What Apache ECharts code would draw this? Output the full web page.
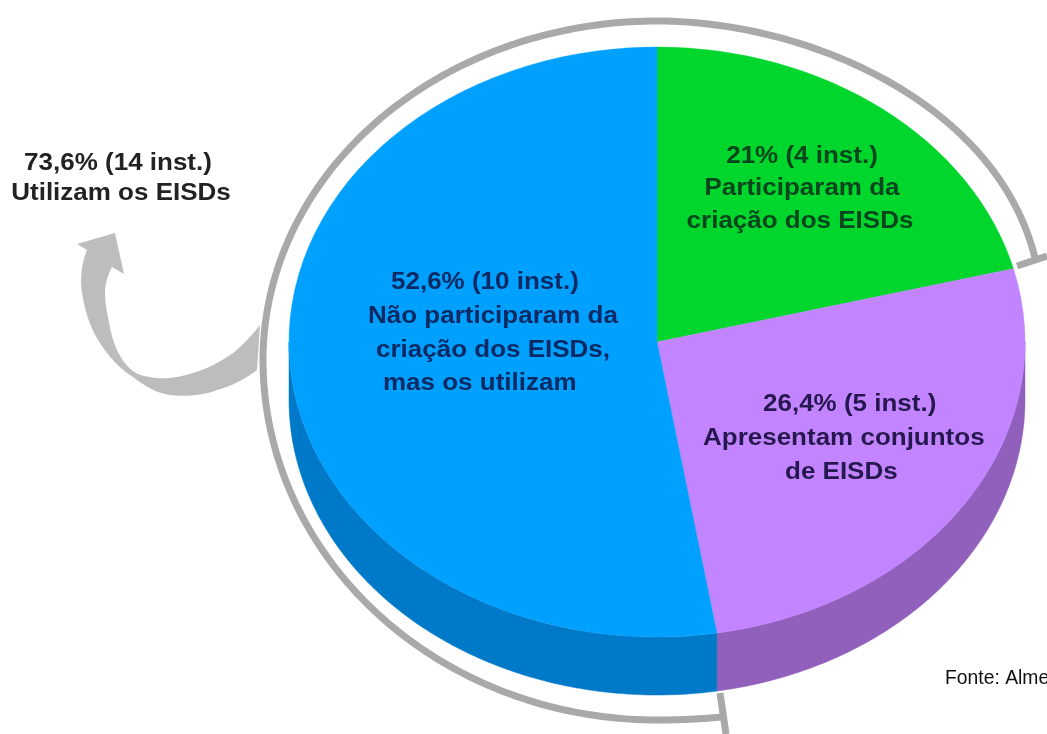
<!DOCTYPE html>
<html>
<head>
<meta charset="utf-8">
<style>html,body{margin:0;padding:0;background:#fff}#c{width:1047px;height:734px}</style>
<script src="https://cdn.jsdelivr.net/npm/echarts@6/dist/echarts.min.js"></script>
</head>
<body>
<div id="c"></div>
<script>
var categories = ['Participaram da criação dos EISDs', 'Apresentam conjuntos de EISDs', 'Não participaram da criação dos EISDs, mas os utilizam'];
var shares = [21, 26.4, 52.6];
var institutions = [4, 5, 10];
var topColors = ['#00d62c', '#c285ff', '#00a0ff'];
var sideColors = ['#00a020', '#9060bc', '#0079c8'];

var greenLines = ['21% (4 inst.)', 'Participaram da', 'criação dos EISDs'];
var purpleLines = ['26,4% (5 inst.)', 'Apresentam conjuntos', 'de EISDs'];
var blueLines = ['52,6% (10 inst.)', 'Não participaram da', 'criação dos EISDs,', 'mas os utilizam'];
var totalLines = ['73,6% (14 inst.)', 'Utilizam os EISDs'];
var sourceText = 'Fonte: Alme';

var CX = 657, CY = 342, RX = 368, RY = 295, DEPTH = 58;
var TOTAL = shares.reduce(function (a, b) { return a + b; }, 0);

function renderSlice(params, api) {
  var i = params.dataIndex, before = 0;
  for (var k = 0; k < i; k++) before += shares[k];
  var v = api.value(1);
  var a0 = before / TOTAL * 2 * Math.PI - Math.PI / 2;
  var a1 = (before + v) / TOTAL * 2 * Math.PI - Math.PI / 2;
  var children = [];
  var s0 = Math.max(a0, 0), s1 = Math.min(a1, Math.PI);
  if (s1 > s0) {
    var pts = [], n = 120, j, t;
    for (j = 0; j <= n; j++) {
      t = s0 + (s1 - s0) * j / n;
      pts.push([CX + RX * Math.cos(t), CY + RY * Math.sin(t)]);
    }
    for (j = n; j >= 0; j--) {
      t = s0 + (s1 - s0) * j / n;
      pts.push([CX + RX * Math.cos(t), CY + DEPTH + RY * Math.sin(t)]);
    }
    children.push({
      type: 'polygon', shape: { points: pts },
      style: { fill: sideColors[i], stroke: sideColors[i], lineWidth: 0.5 }
    });
  }
  children.push({
    type: 'group', x: CX, y: CY, scaleY: RY / RX,
    children: [{
      type: 'sector',
      shape: { cx: 0, cy: 0, r0: 0, r: RX, startAngle: a0, endAngle: a1, clockwise: true },
      style: { fill: topColors[i], stroke: topColors[i], lineWidth: 0.5 }
    }]
  });
  return { type: 'group', children: children };
}

function textLine(str, x, y, color, align) {
  return {
    type: 'text', x: x, y: y, z: 10, scaleX: 1.13,
    style: {
      text: str, fill: color, align: align || 'left', verticalAlign: 'middle',
      font: 'bold 23px "Liberation Sans", Arial, sans-serif'
    }
  };
}

// sample a chain of cubic beziers: [x0,y0, c1x,c1y,c2x,c2y,x,y, ...]
function sampleCurve(p) {
  var out = [[p[0], p[1]]];
  for (var k = 2; k + 5 < p.length; k += 6) {
    var x0 = p[k - 2], y0 = p[k - 1];
    for (var s = 1; s <= 60; s++) {
      var t = s / 60, u = 1 - t;
      out.push([
        u * u * u * x0 + 3 * u * u * t * p[k] + 3 * u * t * t * p[k + 2] + t * t * t * p[k + 4],
        u * u * u * y0 + 3 * u * u * t * p[k + 1] + 3 * u * t * t * p[k + 3] + t * t * t * p[k + 5]
      ]);
    }
  }
  return out;
}
function sampleEllipse(cx, cy, rx, ry, d0, d1) {
  var out = [];
  for (var d = d0; d <= d1; d += 1) {
    var r = d * Math.PI / 180;
    out.push([cx + rx * Math.cos(r), cy + ry * Math.sin(r)]);
  }
  return out;
}

var greenY = [157, 189, 222], purpleY = [405, 439, 473], blueY = [283, 317, 351, 384], totalY = [164, 194];
var blueX = [391, 368, 376, 383], purpleX = [763, 703, 785], greenX = [802, 802, 800], totalX = [118, 121];

var graphics = [];
var GREY = { fill: 'none', stroke: '#a9a9a9', lineWidth: 7, lineJoin: 'round' };
var arcRight = sampleCurve([1036, 262, 1000, 105, 810, 21, 657, 21]);
var arcTopLeft = sampleEllipse(657, 360, 394, 339, 180, 270).reverse();
var arcBottomLeft = sampleEllipse(657, 360, 394, 360, 90, 180).reverse();
var arcEnd = sampleCurve([657, 720, 680, 720, 700, 719, 722, 717]);
graphics.push({
  type: 'polyline', z: 1,
  shape: { points: arcRight.concat(arcTopLeft, arcBottomLeft, arcEnd) },
  style: GREY
});
graphics.push({ type: 'line', z: 1, shape: { x1: 1017, y1: 266, x2: 1047, y2: 256 }, style: GREY });
graphics.push({ type: 'line', z: 1, shape: { x1: 720, y1: 693, x2: 726, y2: 734 }, style: GREY });
// curved arrow
var arrowOuter = sampleCurve([87, 250, 81, 265, 80, 280, 82, 293, 85, 312, 91, 330, 100, 343, 109, 357, 120, 369, 133, 377, 145, 386, 156, 393, 170, 395, 185, 397, 205, 395, 217, 390, 232, 386, 245, 379, 257, 370]);
var arrowInner = sampleCurve([260, 325, 252, 335, 243, 345, 233, 353, 220, 362, 207, 369, 193, 373, 180, 377, 168, 379, 157, 378, 148, 377, 140, 376, 133, 371, 126, 366, 121, 358, 117, 350, 112, 339, 110, 328, 108, 317, 106, 308, 105, 300, 105, 293, 105, 283, 108, 275, 112, 267]);
graphics.push({
  type: 'polygon', z: 1,
  shape: { points: [[115, 233], [77, 244]].concat(arrowOuter, arrowInner, [[124, 274]]) },
  style: { fill: '#bdbdbd' }
});
greenLines.forEach(function (s, i) { graphics.push(textLine(s, greenX[i], greenY[i], '#07451c', 'center')); });
purpleLines.forEach(function (s, i) { graphics.push(textLine(s, purpleX[i], purpleY[i], '#26184f')); });
blueLines.forEach(function (s, i) { graphics.push(textLine(s, blueX[i], blueY[i], '#0b2a63')); });
totalLines.forEach(function (s, i) { graphics.push(textLine(s, totalX[i], totalY[i], '#222222', 'center')); });
graphics.push({
  type: 'text', x: 945, y: 678, z: 10, scaleX: 0.92,
  style: { text: sourceText, fill: '#111', verticalAlign: 'middle', font: '21px "Liberation Sans", sans-serif' }
});

var chart = echarts.init(document.getElementById('c'), null, { renderer: 'canvas' });
chart.setOption({
  animation: false,
  backgroundColor: '#ffffff',
  graphic: graphics,
  series: [{
    type: 'custom',
    coordinateSystem: 'none',
    renderItem: renderSlice,
    data: categories.map(function (c, i) { return { name: c, value: [i, shares[i], institutions[i]] }; })
  }]
});
</script>
</body>
</html>
